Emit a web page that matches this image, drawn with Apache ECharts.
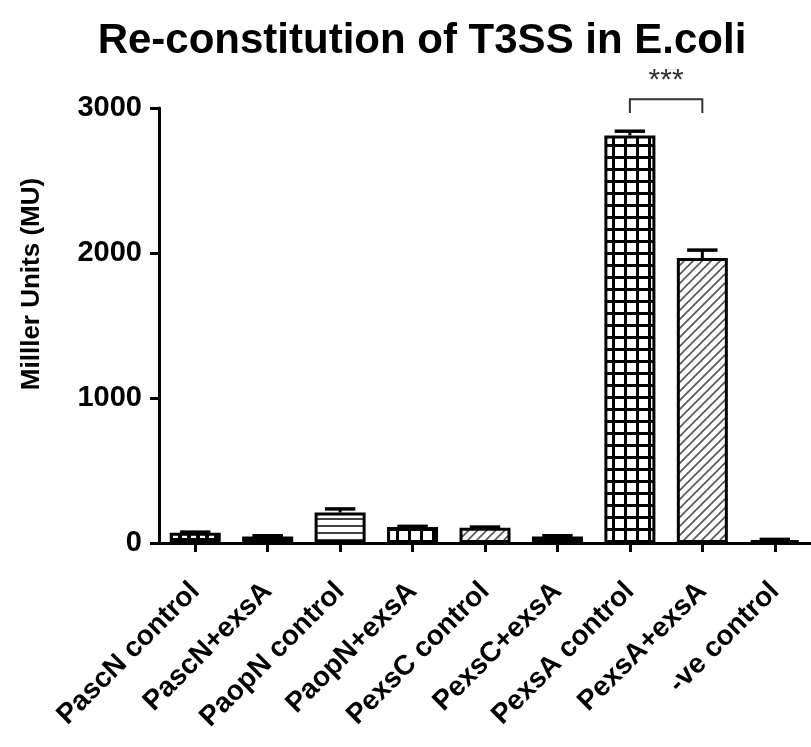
<!DOCTYPE html>
<html>
<head>
<meta charset="utf-8">
<script src="https://cdn.jsdelivr.net/npm/echarts@6/dist/echarts.min.js"></script>
<style>
html,body{margin:0;padding:0;background:#fff;}
#chart{width:811px;height:747px;}
</style>
</head>
<body>
<div id="chart"></div>
<script>
// ---- data ----
var categories = ['PascN control','PascN+exsA','PaopN control','PaopN+exsA','PexsC control','PexsC+exsA','PexsA control','PexsA+exsA','-ve control'];
var values = [70, 45, 210, 110, 105, 45, 2810, 1965, 20];
var errors = [5, 5, 25, 5, 5, 5, 30, 55, 5];
var patterns = ['fineGrid','solid','hLines','grid','diag','solid','grid','diag','solid'];
var yTicks = [0, 1000, 2000, 3000];
var sigPair = [6, 7];
var sigTop = 3060;
var sigBottom = 2965;
var sigLabel = '***';
var titleText = 'Re-constitution of T3SS in E.coli';
var yAxisTitle = 'Milller Units (MU)';

var FONT = '"Liberation Sans", Arial, sans-serif';

function makePattern(kind){
  var c = document.createElement('canvas');
  var ctx;
  if(kind === 'fineGrid'){
    c.width = 9; c.height = 9; ctx = c.getContext('2d');
    ctx.fillStyle = '#000'; ctx.fillRect(0,0,9,9);
    ctx.fillStyle = '#fff'; ctx.fillRect(2,2,5,5);
  } else if(kind === 'grid'){
    c.width = 12; c.height = 12; ctx = c.getContext('2d');
    ctx.fillStyle = '#000'; ctx.fillRect(0,0,12,12);
    ctx.fillStyle = '#fff'; ctx.fillRect(3,3,9,9);
  } else if(kind === 'hLines'){
    c.width = 6; c.height = 7; ctx = c.getContext('2d');
    ctx.fillStyle = '#fff'; ctx.fillRect(0,0,6,7);
    ctx.fillStyle = '#444'; ctx.fillRect(0,0,6,2);
  } else if(kind === 'diag'){
    c.width = 9; c.height = 9; ctx = c.getContext('2d');
    ctx.fillStyle = '#fff'; ctx.fillRect(0,0,9,9);
    ctx.strokeStyle = '#555'; ctx.lineWidth = 1.6;
    ctx.beginPath();
    ctx.moveTo(-2, 11); ctx.lineTo(11, -2);
    ctx.moveTo(-11, 11); ctx.lineTo(2, -2);
    ctx.moveTo(7, 11); ctx.lineTo(20, -2);
    ctx.stroke();
  } else {
    return '#000';
  }
  return {image: c, repeat: 'repeat'};
}

var barData = values.map(function(v, i){
  return {value: v, itemStyle: {color: makePattern(patterns[i])}};
});
var errData = values.map(function(v, i){ return [i, v, errors[i]]; });

var chart = echarts.init(document.getElementById('chart'), null, {renderer: 'canvas'});
chart.setOption({
  backgroundColor: '#fff',
  animation: false,
  title: {
    text: titleText, left: 417, top: 15, textAlign: 'center',
    textStyle: {fontFamily: FONT, fontWeight: 'bold', fontSize: 42, color: '#000'}
  },
  grid: {left: 159, right: -5, top: 108, bottom: 204, containLabel: false},
  xAxis: {
    type: 'category', data: categories,
    axisLine: {show: true, lineStyle: {color: '#000', width: 3}},
    axisTick: {show: true, alignWithLabel: true, length: 9, lineStyle: {color: '#000', width: 3}},
    axisLabel: {
      rotate: 45, interval: 0, margin: 44, color: '#000',
      fontFamily: FONT, fontWeight: 'bold', fontSize: 28
    },
    splitLine: {show: false}
  },
  yAxis: {
    type: 'value', min: yTicks[0], max: yTicks[yTicks.length-1], interval: 1000,
    axisLine: {show: true, lineStyle: {color: '#000', width: 3}},
    axisTick: {show: true, length: 9, lineStyle: {color: '#000', width: 3}},
    axisLabel: {margin: 17, color: '#000', fontFamily: FONT, fontWeight: 'bold', fontSize: 29,
      formatter: function(v){ return String(v); }},
    splitLine: {show: false}
  },
  graphic: [{
    type: 'text', x: 32, y: 284, rotation: Math.PI/2,
    style: {text: yAxisTitle, fontFamily: FONT, fontWeight: 'bold', fontSize: 26,
      fill: '#000', textAlign: 'center', textVerticalAlign: 'middle'}
  }],
  series: [{
    type: 'bar', data: barData, barWidth: 51,
    itemStyle: {borderColor: '#000', borderWidth: 3},
    z: 2
  }, {
    type: 'custom', data: errData, z: 3,
    renderItem: function(params, api){
      var i = api.value(0), v = api.value(1), e = api.value(2);
      var p0 = api.coord([i, v]);
      var p1 = api.coord([i, v + e]);
      var half = api.size([1, 0])[0] * 0.21;
      return {type: 'group', children: [
        {type: 'line', shape: {x1: p0[0], y1: p0[1], x2: p1[0], y2: p1[1]}, style: {stroke: '#000', lineWidth: 3}},
        {type: 'line', shape: {x1: p1[0]-half, y1: p1[1], x2: p1[0]+half, y2: p1[1]}, style: {stroke: '#000', lineWidth: 3.5}}
      ]};
    }
  }, {
    type: 'custom', data: [[sigPair[0], sigPair[1], sigTop, sigBottom]], z: 4, clip: false,
    renderItem: function(params, api){
      var a = api.value(0), b = api.value(1), top = api.value(2), bot = api.value(3);
      var pa = api.coord([a, top]), pb = api.coord([b, top]);
      var qa = api.coord([a, bot]), qb = api.coord([b, bot]);
      return {type: 'group', children: [
        {type: 'polyline', shape: {points: [[qa[0], qa[1]], [pa[0], pa[1]], [pb[0], pb[1]], [qb[0], qb[1]]]},
          style: {stroke: '#333', lineWidth: 2, fill: null}},
        {type: 'text', x: (pa[0]+pb[0])/2, y: pa[1] - 4,
          style: {text: sigLabel, fontFamily: FONT, fontSize: 30, fill: '#333', textAlign: 'center', textVerticalAlign: 'bottom'}}
      ]};
    }
  }]
});
</script>
</body>
</html>
